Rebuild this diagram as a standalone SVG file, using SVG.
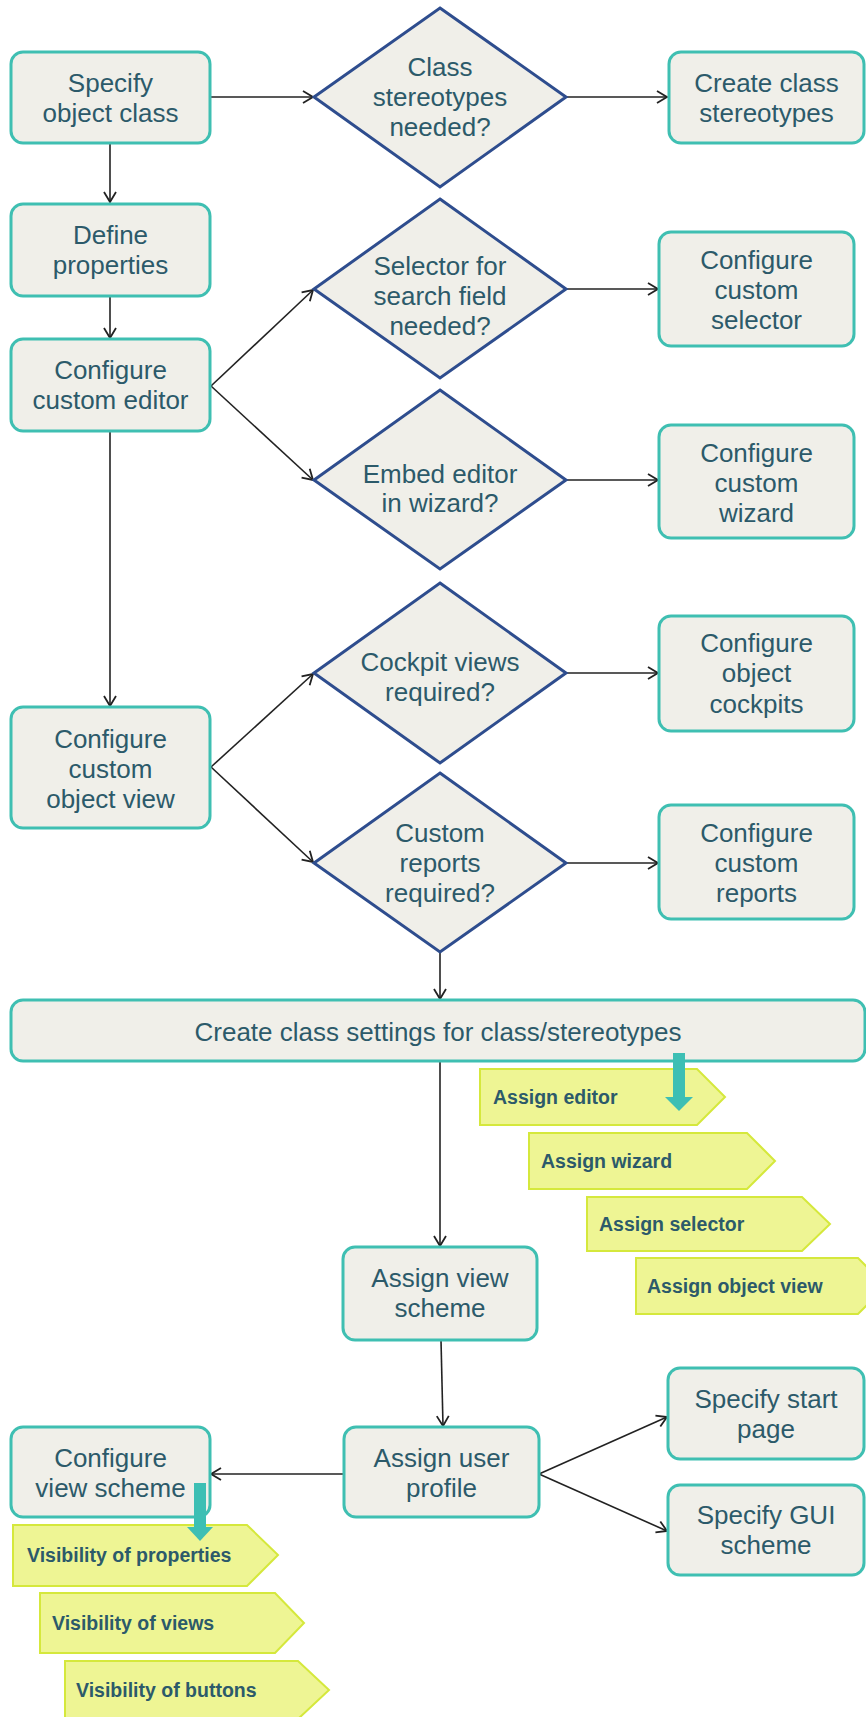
<svg xmlns="http://www.w3.org/2000/svg" width="866" height="1717" viewBox="0 0 866 1717">
<style>
.box{fill:#f0efe9;stroke:#3fbfb2;stroke-width:3}
.dia{fill:#f0efe9;stroke:#2e4d8e;stroke-width:3}
.tag{fill:#eef594;stroke:#d5e83c;stroke-width:2}
.t{font-family:"Liberation Sans",Arial,sans-serif;font-size:26px;fill:#2c5a6a;text-anchor:middle}
.tt{font-family:"Liberation Sans",Arial,sans-serif;font-size:19.5px;font-weight:bold;fill:#2c5a6a}
.c{fill:none;stroke:#222;stroke-width:1.6;marker-end:url(#ah)}
.ta{fill:#3dbfb4}
</style>
<defs>
<marker id="ah" markerUnits="userSpaceOnUse" markerWidth="14" markerHeight="16" refX="11" refY="7" orient="auto">
<path d="M1,1 L11,7 L1,13" fill="none" stroke="#222" stroke-width="1.8"/>
</marker>
</defs>
<g id="connectors">
<path class="c" d="M210,97 L313,97"/>
<path class="c" d="M566,97 L667,97"/>
<path class="c" d="M110,143 L110,202"/>
<path class="c" d="M110,297 L110,338"/>
<path class="c" d="M211,386 L313,290"/>
<path class="c" d="M211,386 L313,480"/>
<path class="c" d="M566,289 L658,289"/>
<path class="c" d="M566,480 L658,480"/>
<path class="c" d="M110,431 L110,706"/>
<path class="c" d="M211,767 L313,674"/>
<path class="c" d="M211,767 L313,862"/>
<path class="c" d="M566,673 L658,673"/>
<path class="c" d="M566,863 L658,863"/>
<path class="c" d="M440,952 L440,999"/>
<path class="c" d="M440,1061 L440,1246"/>
<path class="c" d="M441,1340 L443,1426"/>
<path class="c" d="M344,1474 L211,1474"/>
<path class="c" d="M539,1474 L667,1417"/>
<path class="c" d="M539,1474 L667,1531"/>
</g>
<g id="n_specify"><rect class="box" x="11" y="52" width="199" height="91" rx="12"/><text class="t" x="110.5" y="92">Specify</text><text class="t" x="110.5" y="122">object class</text></g>
<g id="n_d1"><polygon class="dia" points="440,8 566,97 440,187 314,97"/><text class="t" x="440" y="76">Class</text><text class="t" x="440" y="106">stereotypes</text><text class="t" x="440" y="136">needed?</text></g>
<g id="n_stereo"><rect class="box" x="669" y="52" width="195" height="91" rx="12"/><text class="t" x="766.5" y="92">Create class</text><text class="t" x="766.5" y="122">stereotypes</text></g>
<g id="n_define"><rect class="box" x="11" y="204" width="199" height="92" rx="12"/><text class="t" x="110.5" y="244">Define</text><text class="t" x="110.5" y="274">properties</text></g>
<g id="n_editor"><rect class="box" x="11" y="339" width="199" height="92" rx="12"/><text class="t" x="110.5" y="379">Configure</text><text class="t" x="110.5" y="409">custom editor</text></g>
<g id="n_d2"><polygon class="dia" points="440,199 566,289 440,378 314,289"/><text class="t" x="440" y="275">Selector for</text><text class="t" x="440" y="305">search field</text><text class="t" x="440" y="335">needed?</text></g>
<g id="n_selector"><rect class="box" x="659" y="232" width="195" height="114" rx="12"/><text class="t" x="756.5" y="269">Configure</text><text class="t" x="756.5" y="299">custom</text><text class="t" x="756.5" y="329">selector</text></g>
<g id="n_d3"><polygon class="dia" points="440,390 566,480 440,569 314,480"/><text class="t" x="440" y="483">Embed editor</text><text class="t" x="440" y="512">in wizard?</text></g>
<g id="n_wizard"><rect class="box" x="659" y="425" width="195" height="113" rx="12"/><text class="t" x="756.5" y="462">Configure</text><text class="t" x="756.5" y="492">custom</text><text class="t" x="756.5" y="522">wizard</text></g>
<g id="n_objview"><rect class="box" x="11" y="707" width="199" height="121" rx="12"/><text class="t" x="110.5" y="748">Configure</text><text class="t" x="110.5" y="778">custom</text><text class="t" x="110.5" y="808">object view</text></g>
<g id="n_d4"><polygon class="dia" points="440,583 566,673 440,763 314,673"/><text class="t" x="440" y="671">Cockpit views</text><text class="t" x="440" y="701">required?</text></g>
<g id="n_cockpits"><rect class="box" x="659" y="616" width="195" height="115" rx="12"/><text class="t" x="756.5" y="652">Configure</text><text class="t" x="756.5" y="682">object</text><text class="t" x="756.5" y="713">cockpits</text></g>
<g id="n_d5"><polygon class="dia" points="440,773 566,863 440,952 314,863"/><text class="t" x="440" y="842">Custom</text><text class="t" x="440" y="872">reports</text><text class="t" x="440" y="902">required?</text></g>
<g id="n_reports"><rect class="box" x="659" y="805" width="195" height="114" rx="12"/><text class="t" x="756.5" y="842">Configure</text><text class="t" x="756.5" y="872">custom</text><text class="t" x="756.5" y="902">reports</text></g>
<g id="n_settings"><rect class="box" x="11" y="1000" width="854" height="61" rx="12"/><text class="t" x="438" y="1041">Create class settings for class/stereotypes</text></g>
<g id="n_aeditor"><polygon class="tag" points="480,1069 697,1069 725,1097 697,1125 480,1125"/><text class="tt" x="493" y="1104">Assign editor</text></g>
<g id="n_awizard"><polygon class="tag" points="529,1133 747,1133 775,1161 747,1189 529,1189"/><text class="tt" x="541" y="1168">Assign wizard</text></g>
<g id="n_aselector"><polygon class="tag" points="587,1197 802,1197 830,1224 802,1251 587,1251"/><text class="tt" x="599" y="1231">Assign selector</text></g>
<g id="n_aobjview"><polygon class="tag" points="636,1258 858,1258 886,1286 858,1314 636,1314"/><text class="tt" x="647" y="1293">Assign object view</text></g>
<g id="arrow_settings"><rect class="ta" x="673" y="1053" width="12" height="44"/><polygon class="ta" points="665,1097 693,1097 679,1111"/></g>
<g id="n_viewscheme"><rect class="box" x="343" y="1247" width="194" height="93" rx="12"/><text class="t" x="440" y="1287">Assign view</text><text class="t" x="440" y="1317">scheme</text></g>
<g id="n_profile"><rect class="box" x="344" y="1427" width="195" height="90" rx="12"/><text class="t" x="441.5" y="1467">Assign user</text><text class="t" x="441.5" y="1497">profile</text></g>
<g id="n_cfgview"><rect class="box" x="11" y="1427" width="199" height="90" rx="12"/><text class="t" x="110.5" y="1467">Configure</text><text class="t" x="110.5" y="1497">view scheme</text></g>
<g id="n_start"><rect class="box" x="668" y="1368" width="196" height="91" rx="12"/><text class="t" x="766" y="1408">Specify start</text><text class="t" x="766" y="1438">page</text></g>
<g id="n_gui"><rect class="box" x="668" y="1485" width="196" height="90" rx="12"/><text class="t" x="766" y="1524">Specify GUI</text><text class="t" x="766" y="1554">scheme</text></g>
<g id="n_vprops"><polygon class="tag" points="13,1525 247,1525 278,1555 247,1586 13,1586"/><text class="tt" x="27" y="1562">Visibility of properties</text></g>
<g id="n_vviews"><polygon class="tag" points="40,1593 275,1593 304,1623 275,1653 40,1653"/><text class="tt" x="52" y="1630">Visibility of views</text></g>
<g id="n_vbuttons"><polygon class="tag" points="65,1661 298,1661 329,1690 298,1719 65,1719"/><text class="tt" x="76" y="1697">Visibility of buttons</text></g>
<g id="arrow_cfgview"><rect class="ta" x="194" y="1483" width="12" height="44"/><polygon class="ta" points="187,1527 213,1527 200,1541"/></g>
</svg>
